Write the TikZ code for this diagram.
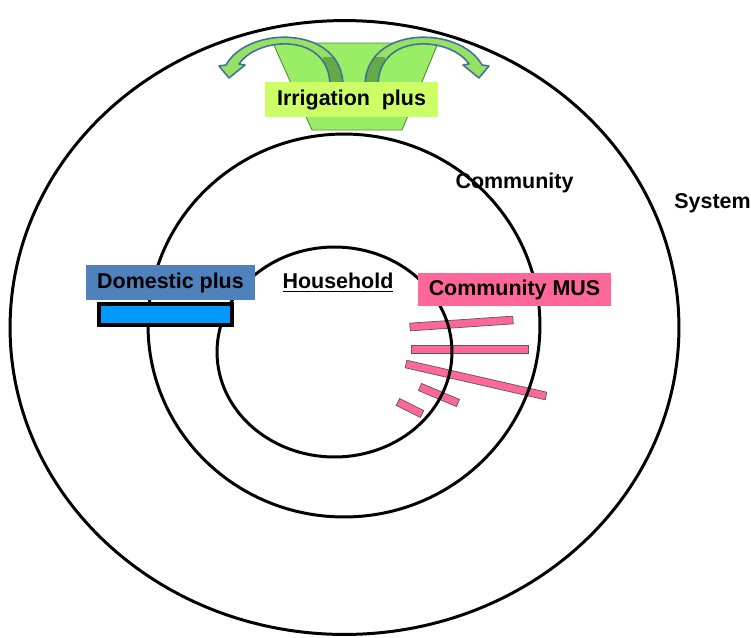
\documentclass[tikz,border=0pt]{standalone}
\usepackage{fontspec}
\setmainfont{Liberation Sans}
\usetikzlibrary{calc}
\definecolor{funnelgreen}{RGB}{153,238,102}
\definecolor{funneledge}{RGB}{80,140,50}
\definecolor{irriglime}{RGB}{204,255,102}
\definecolor{arrowgreen}{RGB}{150,225,100}
\definecolor{arrowdark}{RGB}{100,170,70}
\definecolor{arrowblue}{RGB}{65,113,156}
\definecolor{domblue}{RGB}{79,129,189}
\definecolor{tankblue}{RGB}{0,153,255}
\definecolor{muspink}{RGB}{255,102,153}

\newcommand{\arcarrowpath}{(343,86) .. controls (343,25) and (248,25) .. (226,65) -- (219,66) -- (229,78) -- (245,65) -- (239,64) .. controls (258,36) and (330,32) .. (330,86) -- cycle}

\tikzset{
  ring/.style={draw=black, line width=1.7pt},
  tag/.style={font=\fontsize{12.2}{14}\selectfont\bfseries, inner sep=0pt, align=center},
  tagbox/.style={tag, minimum height=0.7cm},
  pinkbar/.style={fill=muspink, draw=black!65, line width=0.4pt},
  arrowedge/.style={draw=arrowblue, line width=0.9pt, line join=round},
  sidearrow/.pic={
    \begin{scope}
      \clip \arcarrowpath;
      \fill[arrowgreen] (210,20) rectangle (350,90);
      \fill[arrowdark] (323,57) rectangle (350,90);
    \end{scope}
    \draw[arrowedge] \arcarrowpath;
  }
}

\begin{document}
\begin{tikzpicture}[x=0.02cm, y=-0.02cm]
  \useasboundingbox (0,0) rectangle (751,637);

  % pink pipes of the community scheme
  \foreach \xa/\ya/\xb/\yb in {410/327/513/320, 411/349/528/349, 406/364/546/396, 420/387/458/403, 398/402/422/414}
    \draw[pinkbar] ($(\xa,\ya)!2.2pt!90:(\xb,\yb)$) -- ($(\xb,\yb)!2.2pt!-90:(\xa,\ya)$)
      -- ($(\xb,\yb)!2.2pt!90:(\xa,\ya)$) -- ($(\xa,\ya)!2.2pt!-90:(\xb,\yb)$) -- cycle;

  \node[tag] (community) at (514.5,183) {Community};
  \node[tag] (system) at (712.5,203) {System};

  % levels
  \draw[ring] (344.5,327.5) ellipse [x radius=6.69cm, y radius=6.14cm];
  \draw[ring] (344,325.5) ellipse [x radius=3.92cm, y radius=3.83cm];
  \draw[ring] (334.5,352) ellipse [x radius=2.35cm, y radius=2.1cm];

  % irrigation funnel
  \draw[fill=funnelgreen, draw=funneledge, line width=0.5pt] (273,43) -- (438,43) -- (402,130) -- (312,130) -- cycle;
  \pic at (0,0) {sidearrow};
  \pic[xscale=-1] at (708,0) {sidearrow};
  \node[tagbox, fill=irriglime, minimum width=3.46cm] (irrig) at (351.5,99.5) {Irrigation\ \ plus};

  \node[tagbox, fill=domblue, minimum width=3.38cm] (domestic) at (170.5,282.5) {Domestic plus};
  \draw[fill=tankblue, draw=black, line width=2.2pt] (99,304) rectangle (232,325);

  \node[tagbox, fill=muspink, minimum width=3.86cm, minimum height=0.66cm] (mus) at (514.5,289.5) {Community MUS};
  \node[tag] (household) at (338,283) {\underline{Household}};
\end{tikzpicture}
\end{document}
